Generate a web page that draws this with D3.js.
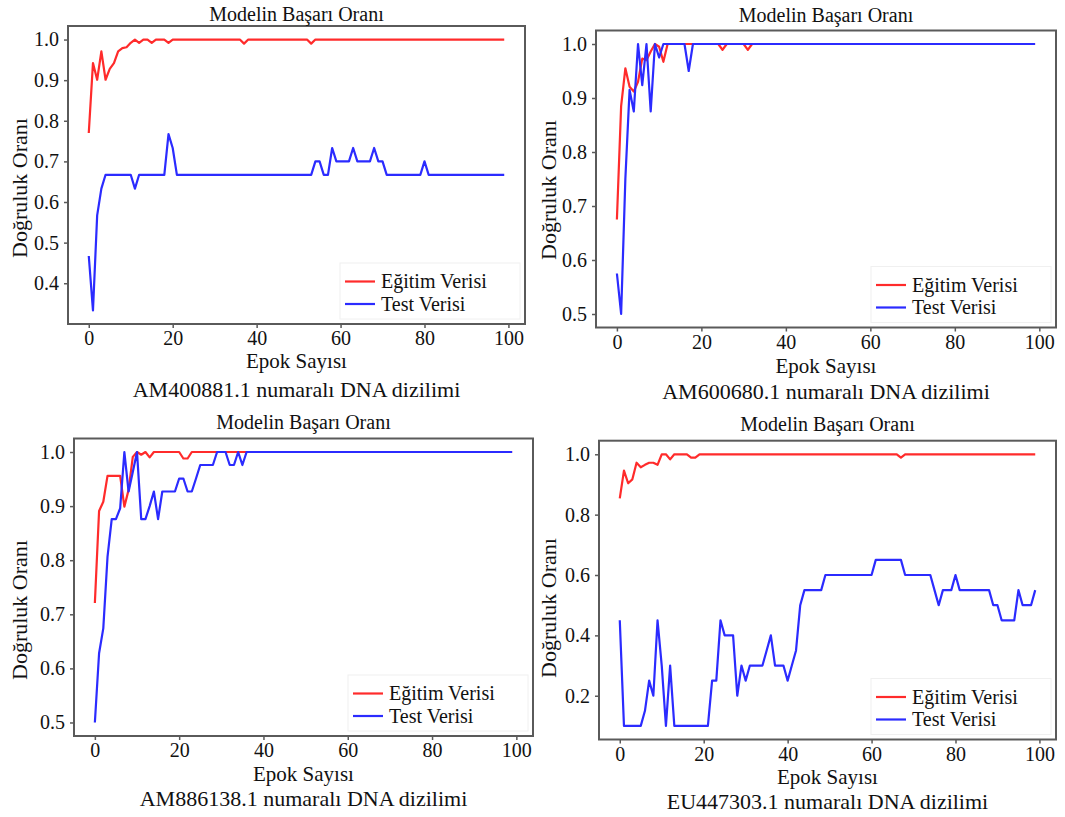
<!DOCTYPE html>
<html><head><meta charset="utf-8">
<script src="https://cdn.jsdelivr.net/npm/d3@7"></script>
<style>body{margin:0;background:#fff}svg{display:block}</style>
</head><body>
<svg id="chart" width="1065" height="817"></svg>
<script>
// ---------------- DATA ----------------
const epochs = d3.range(0, 100);
const xTicks = [0, 20, 40, 60, 80, 100];
const titleText = "Modelin Başarı Oranı";
const xLabelText = "Epok Sayısı";
const yLabelText = "Doğruluk Oranı";
const legendLabels = ["Eğitim Verisi", "Test Verisi"];
const captions = ["AM400881.1 numaralı DNA dizilimi", "AM600680.1 numaralı DNA dizilimi",
                  "AM886138.1 numaralı DNA dizilimi", "EU447303.1 numaralı DNA dizilimi"];

const p1Train = [0.770,0.942,0.901,0.971,0.901,0.928,0.942,0.971,0.979,0.981,
  0.992,1,0.992,1,1,0.992,1,1,1,0.992,
  1,1,1,1,1,1,1,1,1,1, 1,1,1,1,1,1,1,0.990,1,1,
  1,1,1,1,1,1,1,1,1,1, 1,1,1,0.990,1,1,1,1,1,1,
  1,1,1,1,1,1,1,1,1,1, 1,1,1,1,1,1,1,1,1,1,
  1,1,1,1,1,1,1,1,1,1, 1,1,1,1,1,1,1,1,1,1];
const p1Test = [0.467,0.333,0.567,0.633,0.667,0.667,0.667,0.667,0.667,0.667,
  0.667,0.633,0.667,0.667,0.667,0.667,0.667,0.667,0.667,0.767,
  0.733,0.667,0.667,0.667,0.667,0.667,0.667,0.667,0.667,0.667,
  0.667,0.667,0.667,0.667,0.667,0.667,0.667,0.667,0.667,0.667,
  0.667,0.667,0.667,0.667,0.667,0.667,0.667,0.667,0.667,0.667,
  0.667,0.667,0.667,0.667,0.700,0.700,0.667,0.667,0.733,0.700,
  0.700,0.700,0.700,0.733,0.700,0.700,0.700,0.700,0.733,0.700,
  0.700,0.667,0.667,0.667,0.667,0.667,0.667,0.667,0.667,0.667,
  0.700,0.667,0.667,0.667,0.667,0.667,0.667,0.667,0.667,0.667,
  0.667,0.667,0.667,0.667,0.667,0.667,0.667,0.667,0.667,0.667];

const p2Train = [0.675,0.885,0.955,0.921,0.912,0.930,0.973,0.970,0.986,1,
  0.995,0.967,1,1,1,1,1,1,1,1, 1,1,1,1,1,0.989,1,1,1,1,
  1,0.989,1,1,1,1,1,1,1,1, 1,1,1,1,1,1,1,1,1,1,
  1,1,1,1,1,1,1,1,1,1, 1,1,1,1,1,1,1,1,1,1,
  1,1,1,1,1,1,1,1,1,1, 1,1,1,1,1,1,1,1,1,1,
  1,1,1,1,1,1,1,1,1,1];
const p2Test = [0.575,0.500,0.750,0.915,0.875,1,0.924,1,0.875,1,
  0.975,1,1,1,1,1,1,0.950,1,1, 1,1,1,1,1,1,1,1,1,1,
  1,1,1,1,1,1,1,1,1,1, 1,1,1,1,1,1,1,1,1,1,
  1,1,1,1,1,1,1,1,1,1, 1,1,1,1,1,1,1,1,1,1,
  1,1,1,1,1,1,1,1,1,1, 1,1,1,1,1,1,1,1,1,1,
  1,1,1,1,1,1,1,1,1,1];

const p3Train = [0.721,0.891,0.908,0.956,0.956,0.956,0.956,0.899,0.930,0.991,
  1,0.995,1,0.990,1,1,1,1,1,1, 1,0.988,0.988,1,1,1,1,1,1,1,
  1,1,1,1,1,1,1,1,1,1, 1,1,1,1,1,1,1,1,1,1,
  1,1,1,1,1,1,1,1,1,1, 1,1,1,1,1,1,1,1,1,1,
  1,1,1,1,1,1,1,1,1,1, 1,1,1,1,1,1,1,1,1,1,
  1,1,1,1,1,1,1,1,1,1];
const p3Test = [0.500,0.628,0.674,0.806,0.876,0.876,0.896,1,0.927,0.963,
  1,0.876,0.876,0.900,0.927,0.876,0.927,0.927,0.927,0.927,
  0.951,0.951,0.927,0.927,0.951,0.976,0.976,0.976,0.976,1,
  1,1,0.976,0.976,1,0.976,1,1,1,1, 1,1,1,1,1,1,1,1,1,1,
  1,1,1,1,1,1,1,1,1,1, 1,1,1,1,1,1,1,1,1,1,
  1,1,1,1,1,1,1,1,1,1, 1,1,1,1,1,1,1,1,1,1,
  1,1,1,1,1,1,1,1,1,1];

const p4Train = [0.854,0.946,0.904,0.917,0.972,0.957,0.965,0.972,0.972,0.965,
  1,1,0.983,1,1,1,1,0.989,0.989,1, 1,1,1,1,1,1,1,1,1,1,
  1,1,1,1,1,1,1,1,1,1, 1,1,1,1,1,1,1,1,1,1,
  1,1,1,1,1,1,1,1,1,1, 1,1,1,1,1,1,1,0.989,1,1,
  1,1,1,1,1,1,1,1,1,1, 1,1,1,1,1,1,1,1,1,1,
  1,1,1,1,1,1,1,1,1,1];
const p4Test = [0.45,0.10,0.10,0.10,0.10,0.10,0.15,0.25,0.20,0.45,
  0.30,0.10,0.30,0.10,0.10,0.10,0.10,0.10,0.10,0.10,
  0.10,0.10,0.25,0.25,0.45,0.40,0.40,0.40,0.20,0.30,
  0.25,0.30,0.30,0.30,0.30,0.35,0.40,0.30,0.30,0.30,
  0.25,0.30,0.35,0.50,0.55,0.55,0.55,0.55,0.55,0.60,
  0.60,0.60,0.60,0.60,0.60,0.60,0.60,0.60,0.60,0.60,
  0.60,0.65,0.65,0.65,0.65,0.65,0.65,0.65,0.60,0.60,
  0.60,0.60,0.60,0.60,0.60,0.55,0.50,0.55,0.55,0.55,
  0.60,0.55,0.55,0.55,0.55,0.55,0.55,0.55,0.55,0.50,
  0.50,0.45,0.45,0.45,0.45,0.55,0.50,0.50,0.50,0.55];

const p1YTicks = [0.4,0.5,0.6,0.7,0.8,0.9,1.0];
const p2YTicks = [0.5,0.6,0.7,0.8,0.9,1.0];
const p3YTicks = [0.5,0.6,0.7,0.8,0.9,1.0];
const p4YTicks = [0.2,0.4,0.6,0.8,1.0];

// ---------------- LAYOUT ----------------
const layouts = [
  {l:68, r:525, t:26, b:324, titleY:21, xlabY:368, capY:397, ylabX:27, ylabY:188},
  {l:596, r:1056, t:30.5, b:327.5, titleY:22, xlabY:373, capY:399, ylabX:556, ylabY:190},
  {l:74, r:533, t:438.5, b:736, titleY:429, xlabY:781, capY:806, ylabX:27, ylabY:610},
  {l:599, r:1056, t:440.7, b:739.5, titleY:431, xlabY:784, capY:809, ylabX:556, ylabY:608}
];
const trainSeries = [p1Train, p2Train, p3Train, p4Train];
const testSeries = [p1Test, p2Test, p3Test, p4Test];
const yTickSets = [p1YTicks, p2YTicks, p3YTicks, p4YTicks];

const RED = "#ff2b2b", BLUE = "#2b2bff", FRAME = "#5a5a5a";
const SERIF = '"Liberation Serif", "Times New Roman", Times, "DejaVu Serif", serif';

const svg = d3.select("#chart");
svg.append("rect").attr("width",1065).attr("height",817).attr("fill","#fff");

function styleText(sel, size) {
  return sel.attr("font-family", SERIF).style("font-family", SERIF)
    .style("font-size", size + "px").attr("fill", "#111");
}

layouts.forEach((L, i) => {
  const train = trainSeries[i], test = testSeries[i];
  const all = train.concat(test);
  const lo = d3.min(all), hi = d3.max(all), pad = (hi - lo) * 0.05;
  const xPad = (d3.max(epochs) - d3.min(epochs)) * 0.05;
  const x = d3.scaleLinear().domain([d3.min(epochs) - xPad, d3.max(epochs) + xPad]).range([L.l, L.r]);
  const y = d3.scaleLinear().domain([lo - pad, hi + pad]).range([L.b, L.t]);
  const g = svg.append("g");
  const cx = (L.l + L.r) / 2;

  // axes
  const xa = g.append("g").attr("transform", `translate(0,${L.b})`)
    .call(d3.axisBottom(x).tickValues(xTicks).tickFormat(d3.format("d")).tickSize(4).tickPadding(3));
  const ya = g.append("g").attr("transform", `translate(${L.l},0)`)
    .call(d3.axisLeft(y).tickValues(yTickSets[i]).tickFormat(d3.format(".1f")).tickSize(4).tickPadding(5));
  [xa, ya].forEach(a => {
    a.attr("font-family", SERIF).style("font-family", SERIF);
    a.select(".domain").remove();
    a.selectAll("line").attr("stroke", FRAME).attr("stroke-width", 1.5);
    styleText(a.selectAll("text"), 20);
  });

  // lines
  const line = d3.line().x((d, k) => x(epochs[k])).y(d => y(d));
  g.append("path").datum(train).attr("d", line).attr("fill","none")
    .attr("stroke", RED).attr("stroke-width", 2.2).attr("stroke-linejoin","round");
  g.append("path").datum(test).attr("d", line).attr("fill","none")
    .attr("stroke", BLUE).attr("stroke-width", 2.2).attr("stroke-linejoin","round");

  // frame
  g.append("rect").attr("x", L.l).attr("y", L.t).attr("width", L.r - L.l).attr("height", L.b - L.t)
    .attr("fill", "none").attr("stroke", FRAME).attr("stroke-width", 2);

  // legend
  const lg = g.append("g");
  lg.append("rect").attr("x", L.r - 185).attr("y", L.b - 61).attr("width", 180).attr("height", 56)
    .attr("fill", "#fff").attr("stroke", "#f0f0f0").attr("stroke-width", 1);
  [RED, BLUE].forEach((c, k) => {
    const ly = L.b - 42.5 + k * 22.5;
    lg.append("line").attr("x1", L.r - 180).attr("x2", L.r - 150).attr("y1", ly).attr("y2", ly)
      .attr("stroke", c).attr("stroke-width", 2.2);
    styleText(lg.append("text").attr("x", L.r - 144).attr("y", ly + 6.5).text(legendLabels[k]), 20);
  });

  // texts
  styleText(g.append("text").attr("x", cx).attr("y", L.titleY).attr("text-anchor","middle").text(titleText), 20);
  styleText(g.append("text").attr("x", cx).attr("y", L.xlabY).attr("text-anchor","middle").text(xLabelText), 21);
  styleText(g.append("text").attr("x", cx).attr("y", L.capY).attr("text-anchor","middle").text(captions[i]), 22);
  styleText(g.append("text").attr("transform", `translate(${L.ylabX},${L.ylabY}) rotate(-90)`)
    .attr("text-anchor","middle").text(yLabelText), 22);
});
</script>
</body></html>
